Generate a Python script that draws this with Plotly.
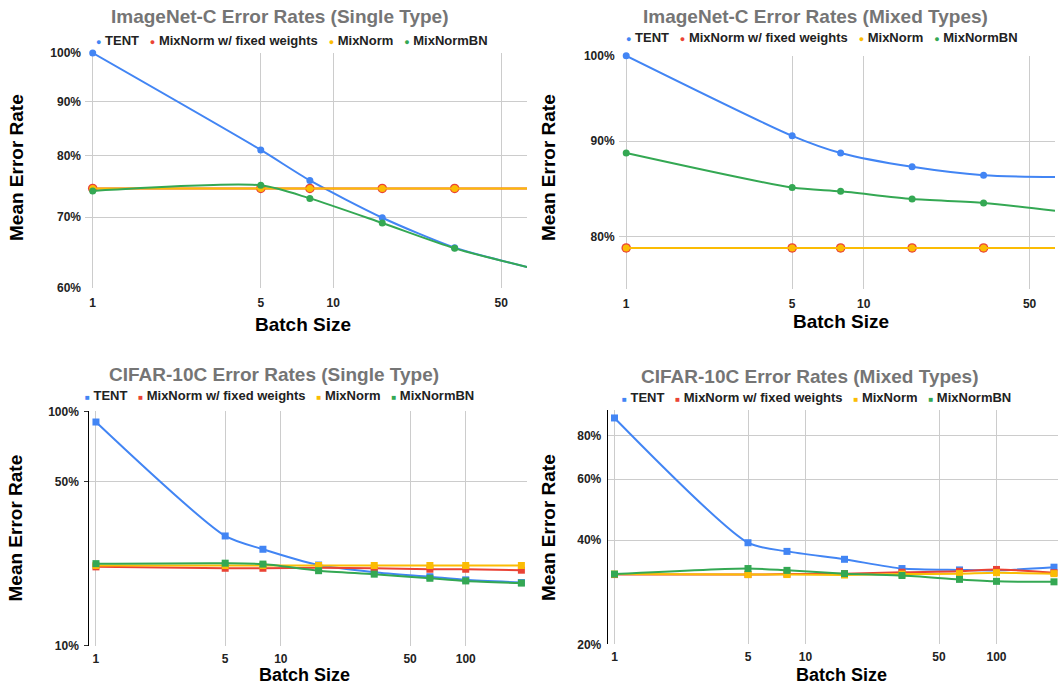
import math
import plotly.graph_objects as go

W, H = 1058, 685

# ---------------- data ----------------
series_names = ["TENT", "MixNorm w/ fixed weights", "MixNorm", "MixNormBN"]
series_colors = ["#4285F4", "#EA4335", "#FBBC04", "#34A853"]

batch_imagenet = [1, 5, 8, 16, 32, 64]
in_single_tent = [100.0, 81.0, 75.8, 69.9, 65.5, 62.8]
in_single_fixed = [74.5, 74.5, 74.5, 74.5, 74.5, 74.5]
in_single_mixnorm = [74.5, 74.5, 74.5, 74.5, 74.5, 74.5]
in_single_bn = [74.1, 75.0, 72.9, 69.1, 65.4, 62.8]

in_mixed_tent = [100.0, 90.6, 88.7, 87.2, 86.3, 86.1]
in_mixed_fixed = [78.9, 78.9, 78.9, 78.9, 78.9, 78.9]
in_mixed_mixnorm = [78.9, 78.9, 78.9, 78.9, 78.9, 78.9]
in_mixed_bn = [88.7, 85.0, 84.6, 83.8, 83.4, 82.6]

batch_cifar = [1, 5, 8, 16, 32, 64, 100, 200]
c_single_tent = [90.1, 29.4, 25.8, 22.1, 20.6, 19.7, 19.1, 18.6]
c_single_fixed = [21.7, 21.4, 21.4, 21.5, 21.4, 21.2, 21.2, 21.0]
c_single_mixnorm = [22.0, 22.0, 22.0, 22.0, 22.0, 22.0, 22.0, 22.0]
c_single_bn = [22.4, 22.5, 22.3, 20.9, 20.2, 19.4, 18.9, 18.5]

c_mixed_tent = [90.1, 39.3, 37.1, 35.2, 33.1, 32.8, 32.7, 33.4]
c_mixed_fixed = [31.8, 31.8, 31.9, 32.0, 32.3, 32.5, 32.9, 32.2]
c_mixed_mixnorm = [31.9, 31.8, 31.8, 31.7, 31.9, 32.0, 32.2, 32.0]
c_mixed_bn = [31.9, 33.1, 32.7, 32.0, 31.6, 30.8, 30.4, 30.3]

imagenet_xticks = [1, 5, 10, 50]
cifar_xticks = [1, 5, 10, 50, 100]
in_single_yticks = [60, 70, 80, 90, 100]
in_mixed_yticks = [80, 90, 100]
c_single_yticks = [10, 50, 100]
c_mixed_yticks = [20, 40, 60, 80]

titles = [
    "ImageNet-C Error Rates (Single Type)",
    "ImageNet-C Error Rates (Mixed Types)",
    "CIFAR-10C Error Rates (Single Type)",
    "CIFAR-10C Error Rates (Mixed Types)",
]
x_title = "Batch Size"
y_title = "Mean Error Rate"

FONT = "Arial, Liberation Sans, sans-serif"


def px_x(p):
    return p / W


def px_y(p):
    return 1 - p / H


panels = [
    dict(x=batch_imagenet, ys=[in_single_tent, in_single_fixed, in_single_mixnorm, in_single_bn],
         symbol="circle", dom_x=(85, 527), dom_y=(53, 288), xr=[-0.032, 1.806],
         yr=[math.log10(60), 2.0], xt=imagenet_xticks, yt=in_single_yticks, yaxisline=False,
         xstand=6, xtsize=19,
         title_pos=(280, 16), legend_pos=(94, 40), xtitle_pos=(303, 324), ytitle_pos=(16, 168)),
    dict(x=batch_imagenet, ys=[in_mixed_tent, in_mixed_fixed, in_mixed_mixnorm, in_mixed_bn],
         symbol="circle", dom_x=(618.6, 1055), dom_y=(55.8, 289), xr=[-0.032, 1.806],
         yr=[math.log10(75), 2.0], xt=imagenet_xticks, yt=in_mixed_yticks, yaxisline=False,
         xstand=6, xtsize=19,
         title_pos=(815, 17), legend_pos=(624, 37.5), xtitle_pos=(841, 321), ytitle_pos=(548, 168)),
    dict(x=batch_cifar, ys=[c_single_tent, c_single_fixed, c_single_mixnorm, c_single_bn],
         symbol="square", dom_x=(89.3, 527.3), dom_y=(411.4, 645.7), xr=[-0.036, 2.333],
         yr=[1.0, 2.0], xt=cifar_xticks, yt=c_single_yticks, yaxisline=True, yticks=True,
         xstand=4, xtsize=18,
         title_pos=(274, 374.5), legend_pos=(82.5, 395), xtitle_pos=(304, 675), ytitle_pos=(14.5, 528)),
    dict(x=batch_cifar, ys=[c_mixed_tent, c_mixed_fixed, c_mixed_mixnorm, c_mixed_bn],
         symbol="square", dom_x=(607.7, 1058), dom_y=(410, 644.3), xr=[-0.0356, 2.322],
         yr=[math.log10(20), math.log10(95)], xt=cifar_xticks, yt=c_mixed_yticks, yaxisline=True, yticks=False,
         xstand=4, xtsize=18,
         title_pos=(810, 376), legend_pos=(620, 397.5), xtitle_pos=(841, 675), ytitle_pos=(548, 528)),
]

fig = go.Figure()
annotations = []

for i, p in enumerate(panels):
    n = "" if i == 0 else str(i + 1)
    xa, ya = "x" + n, "y" + n
    # traces
    for k, (name, color, yv) in enumerate(zip(series_names, series_colors, p["ys"])):
        if p["symbol"] == "circle":
            size = 9.5 if k == 1 else 7
        else:
            size = 7
        fig.add_trace(go.Scatter(
            x=p["x"], y=yv, name=name, mode="lines+markers", xaxis=xa, yaxis=ya,
            line=dict(color=color, width=2, shape="spline", smoothing=0.7),
            marker=dict(symbol=p["symbol"], size=size, color=color, line=dict(width=0)),
            cliponaxis=False, showlegend=False,
        ))
    # axes
    xaxis = dict(
        type="log", range=p["xr"], domain=[px_x(p["dom_x"][0]), px_x(p["dom_x"][1])],
        anchor=ya, tickvals=p["xt"], ticktext=[str(v) for v in p["xt"]],
        showgrid=True, gridcolor="#cccccc", gridwidth=1, showline=False, zeroline=False,
        ticks="", ticklabelstandoff=p["xstand"], automargin=False,
        tickfont=dict(family=FONT, size=12, color="#222222", weight="bold"),
    )
    yaxis = dict(
        type="log", range=p["yr"], domain=[px_y(p["dom_y"][1]), px_y(p["dom_y"][0])],
        anchor=xa, tickvals=p["yt"], ticktext=[f"{v}%" for v in p["yt"]],
        showgrid=True, gridcolor="#cccccc", gridwidth=1, zeroline=False,
        showline=p["yaxisline"], linecolor="#000000", linewidth=1,
        ticks="outside" if p.get("yticks") else "", ticklen=4, tickcolor="#333333", tickwidth=1,
        ticklabelstandoff=3, automargin=False,
        tickfont=dict(family=FONT, size=12, color="#222222", weight="bold"),
    )
    fig.layout["xaxis" + n] = xaxis
    fig.layout["yaxis" + n] = yaxis

    # chart title
    annotations.append(dict(
        text=titles[i], x=px_x(p["title_pos"][0]), y=px_y(p["title_pos"][1]),
        xref="paper", yref="paper", xanchor="center", yanchor="middle", showarrow=False,
        font=dict(family=FONT, size=19, color="#757575", weight="bold"),
    ))
    # legend row
    sym = "\u25cf" if p["symbol"] == "circle" else "\u25a0"
    symsize = 9 if p["symbol"] == "circle" else 8
    parts = [
        f'<span style="color:{c};font-size:{symsize}px">{sym}</span>&nbsp;{nm}'
        for nm, c in zip(series_names, series_colors)
    ]
    annotations.append(dict(
        text="&nbsp;&nbsp;&nbsp;".join(parts), x=px_x(p["legend_pos"][0]), y=px_y(p["legend_pos"][1]),
        xref="paper", yref="paper", xanchor="left", yanchor="middle", showarrow=False,
        font=dict(family=FONT, size=13, color="#222222", weight="bold"),
    ))
    # axis titles
    annotations.append(dict(
        text=x_title, x=px_x(p["xtitle_pos"][0]), y=px_y(p["xtitle_pos"][1]),
        xref="paper", yref="paper", xanchor="center", yanchor="middle", showarrow=False,
        borderpad=0,
        font=dict(family=FONT, size=p["xtsize"], color="#000000", weight="bold"),
    ))
    annotations.append(dict(
        text=y_title, x=px_x(p["ytitle_pos"][0]), y=px_y(p["ytitle_pos"][1]),
        xref="paper", yref="paper", xanchor="center", yanchor="middle", showarrow=False,
        textangle=-90,
        font=dict(family=FONT, size=19, color="#000000", weight="bold"),
    ))

fig.update_layout(
    width=W, height=H, margin=dict(l=0, r=0, t=0, b=0, pad=0, autoexpand=False),
    paper_bgcolor="#ffffff", plot_bgcolor="#ffffff",
    showlegend=False, annotations=annotations,
    font=dict(family=FONT),
)

fig.write_html("out.html", config={"displayModeBar": False},
               post_script="document.body.style.margin='0px';")
